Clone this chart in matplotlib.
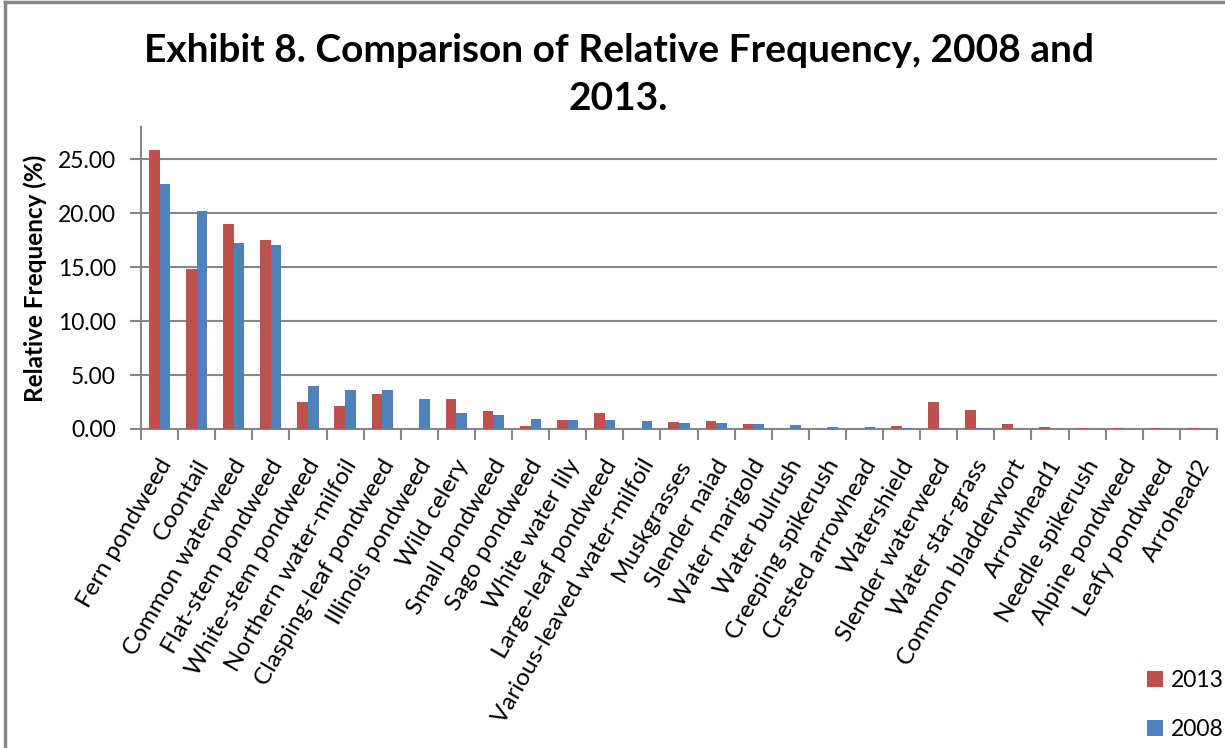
import numpy as np
import matplotlib.pyplot as plt
from matplotlib.lines import Line2D
from matplotlib.transforms import ScaledTranslation

### ============= ###  Dados  ### ============= ###

SPECIES = [
    "Fern pondweed", "Coontail", "Common waterweed", "Flat-stem pondweed",
    "White-stem pondweed", "Northern water-milfoil", "Clasping-leaf pondweed",
    "Illinois pondweed", "Wild celery", "Small pondweed", "Sago pondweed",
    "White water lily", "Large-leaf pondweed", "Various-leaved water-milfoil",
    "Muskgrasses", "Slender naiad", "Water marigold", "Water bulrush",
    "Creeping spikerush", "Crested arrowhead", "Watershield",
    "Slender waterweed", "Water star-grass", "Common bladderwort",
    "Arrowhead1", "Needle spikerush", "Alpine pondweed", "Leafy pondweed",
    "Arrohead2",
]

FREQ_2013 = [
    25.83, 14.81, 19.04, 17.56, 2.47, 2.16, 3.27, 0.0, 2.81, 1.64, 0.31,
    0.86, 1.51, 0.0, 0.65, 0.74, 0.43, 0.0, 0.0, 0.0, 0.31, 2.50, 1.73,
    0.43, 0.19, 0.09, 0.09, 0.09, 0.09,
]

FREQ_2008 = [
    22.75, 20.19, 17.28, 17.07, 3.98, 3.64, 3.64, 2.81, 1.45, 1.27, 0.90,
    0.80, 0.80, 0.71, 0.56, 0.56, 0.46, 0.37, 0.19, 0.19, 0.09, 0.09, 0.09,
    0.0, 0.0, 0.0, 0.0, 0.0, 0.0,
]

YTICKS = [0, 5, 10, 15, 20, 25]

COR_2013 = "#C0504D"
COR_2008 = "#4F81BD"
CINZA = "#868686"

plt.rcParams["font.family"] = ["Lato", "DejaVu Sans"]

### ============= ###  Figura  ### ============= ###

fig = plt.figure(figsize=(12.25, 7.48), dpi=100)
ax = fig.add_axes([141 / 1225, 1 - 429 / 748, 1076 / 1225, 302 / 748])

x = np.arange(len(SPECIES))
w = 1 / 3.5
ax.bar(x - w / 2, FREQ_2013, width=w, color=COR_2013, label="2013", zorder=3)
ax.bar(x + w / 2, FREQ_2008, width=w, color=COR_2008, label="2008", zorder=3)

ax.set_xlim(-0.5, len(SPECIES) - 0.5)
ax.set_ylim(0, 28)
ax.set_yticks(YTICKS)
ax.set_yticklabels([f"{v:.2f}" for v in YTICKS], fontsize=16.5)
ax.yaxis.grid(True, color=CINZA, lw=1.5, zorder=0)
ax.tick_params(axis="y", length=8, width=1.5, color=CINZA, pad=10)

ax.set_xticks(x)
ax.set_xticklabels(SPECIES, rotation=60, ha="right", va="center",
                   rotation_mode="anchor", fontsize=17.5)
ax.tick_params(axis="x", which="major", length=0, pad=23)
ax.set_xticks(np.arange(len(SPECIES) + 1) - 0.5, minor=True)
ax.tick_params(axis="x", which="minor", length=8, width=1.5, color=CINZA)
# desloca os rotulos um pouco para a direita, como no original
desloc = ScaledTranslation(7 / 100, 0, fig.dpi_scale_trans)
for rot in ax.get_xticklabels():
    rot.set_transform(rot.get_transform() + desloc)

for lado in ["top", "right"]:
    ax.spines[lado].set_visible(False)
for lado in ["left", "bottom"]:
    ax.spines[lado].set_color(CINZA)
    ax.spines[lado].set_linewidth(1.5)

ax.set_ylabel("Relative Frequency (%)", fontsize=17.5, fontweight="bold",
              labelpad=8)

fig.text(0.505, 1 - 50 / 748,
         "Exhibit 8. Comparison of Relative Frequency, 2008 and",
         ha="center", va="center", fontsize=28, fontweight="bold")
fig.text(0.505, 1 - 99 / 748, "2013.",
         ha="center", va="center", fontsize=28, fontweight="bold")

fig.legend(loc="center left", bbox_to_anchor=(1147 / 1225, 1 - 705 / 748),
           frameon=False, fontsize=16.5, handlelength=0.7, handleheight=0.7,
           labelspacing=1.25, handletextpad=0.35, borderpad=0,
           borderaxespad=0)

# moldura do grafico (topo e esquerda)
fig.add_artist(Line2D([5 / 1225, 1], [1 - 2 / 748, 1 - 2 / 748],
                      color=CINZA, lw=2.5, transform=fig.transFigure))
fig.add_artist(Line2D([5 / 1225, 5 / 1225], [0, 1 - 2 / 748],
                      color=CINZA, lw=2.5, transform=fig.transFigure))

fig.savefig("out.png", dpi=100)
